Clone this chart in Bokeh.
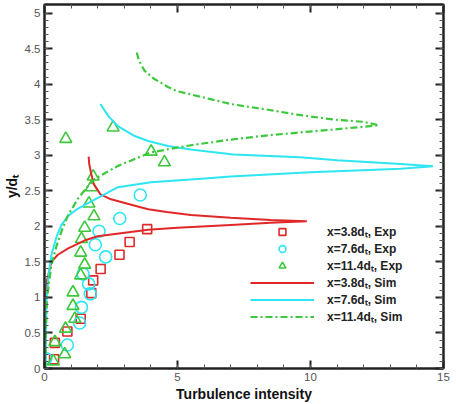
import numpy as np
from bokeh.plotting import figure
from bokeh.models import (Range1d, LinearAxis, FixedTicker, NumeralTickFormatter, Legend,
                          CustomJSTickFormatter)
from bokeh.embed import file_html
from bokeh.resources import INLINE

# ---- data ----
exp38_x = [0.36, 0.39, 0.86, 1.36, 1.76, 1.83, 2.11, 2.82, 3.20, 3.86]
exp38_y = [0.13, 0.36, 0.52, 0.70, 1.06, 1.24, 1.40, 1.60, 1.78, 1.96]

exp76_x = [0.05, 0.86, 1.32, 1.39, 1.72, 1.66, 1.45, 2.30, 1.91, 2.05, 2.83, 3.60]
exp76_y = [0.14, 0.33, 0.64, 0.86, 1.05, 1.19, 1.33, 1.57, 1.74, 1.93, 2.11, 2.44]

exp114_x = [0.33, 0.76, 0.39, 0.79, 1.14, 1.07, 1.07, 1.36, 1.51, 1.36, 1.39, 1.51,
            1.86, 1.67, 1.76, 1.83, 4.01, 4.51, 2.58, 0.80]
exp114_y = [0.10, 0.20, 0.37, 0.56, 0.70, 0.88, 1.07, 1.31, 1.46, 1.63, 1.82, 1.98,
            2.14, 2.32, 2.55, 2.70, 3.05, 2.90, 3.39, 3.23]

sim38_x = [0.02, 0.10, 0.26, 0.50, 0.89, 1.50, 2.00, 2.80, 3.90, 5.00, 7.00, 8.50, 9.86,
           8.50, 7.00, 5.50, 4.60, 3.90, 3.40, 2.50, 2.10, 1.85, 1.75, 1.68, 1.66]
sim38_y = [1.00, 1.25, 1.50, 1.60, 1.69, 1.80, 1.86, 1.90, 1.95, 1.98, 2.02, 2.05, 2.07,
           2.09, 2.12, 2.16, 2.20, 2.24, 2.29, 2.38, 2.45, 2.60, 2.75, 2.88, 2.98]

sim76_x = [0.05, 0.05, 0.08, 0.15, 0.26, 0.45, 0.64, 0.90, 1.26, 1.90, 2.76, 4.00, 5.90,
           7.00, 10.0, 13.4, 14.6, 13.4, 11.0, 9.60, 7.10, 5.50, 4.64, 3.90, 3.39, 2.76,
           2.40, 2.10]
sim76_y = [0.00, 0.50, 1.00, 1.30, 1.60, 1.85, 2.02, 2.15, 2.25, 2.38, 2.55, 2.62, 2.67,
           2.70, 2.76, 2.81, 2.845, 2.875, 2.93, 2.97, 3.01, 3.08, 3.13, 3.20, 3.27, 3.41,
           3.55, 3.72]

sim114_x = [0.03, 0.05, 0.10, 0.26, 0.45, 0.64, 0.89, 1.26, 1.60, 1.90, 2.76, 4.00, 5.50,
            7.00, 8.40, 10.5, 12.0, 12.57, 12.0, 10.9, 9.50, 8.40, 7.00, 5.90, 5.00, 4.64,
            4.10, 3.76, 3.55, 3.45]
sim114_y = [0.00, 0.50, 1.00, 1.46, 1.72, 1.93, 2.16, 2.39, 2.55, 2.67, 2.85, 3.04, 3.14,
            3.22, 3.28, 3.35, 3.40, 3.42, 3.47, 3.50, 3.57, 3.64, 3.72, 3.82, 3.90, 3.96,
            4.08, 4.19, 4.33, 4.47]

x_major = [0, 5, 10, 15]
y_major = [0, 0.5, 1, 1.5, 2, 2.5, 3, 3.5, 4, 4.5, 5]

RED = "#e02828"
CYAN = "#2ee6f2"
GREEN = "#3cc83c"
FONT = "Liberation Sans"

p = figure(width=456, height=404, output_backend="svg", toolbar_location=None,
           x_range=Range1d(0, 15), y_range=Range1d(0, 5.12),
           min_border_left=42, min_border_right=13, min_border_top=4, min_border_bottom=32)
p.background_fill_color = "white"
p.border_fill_color = "white"
p.grid.visible = False
p.outline_line_color = "#222222"
p.outline_line_width = 2

xt = FixedTicker(ticks=x_major, minor_ticks=list(range(0, 16)))
yt = FixedTicker(ticks=y_major, minor_ticks=[round(v * 0.1, 1) for v in range(0, 52)])

def style_axis(ax, show_labels):
    ax.major_tick_in = 8
    ax.major_tick_out = 0
    ax.minor_tick_in = 4
    ax.minor_tick_out = 0
    ax.major_tick_line_color = "#222222"
    ax.major_tick_line_width = 2
    ax.minor_tick_line_color = "#555555"
    ax.axis_line_color = "#222222"
    ax.axis_line_width = 2
    if show_labels:
        ax.formatter = NumeralTickFormatter(format="0.[0]")
        ax.major_label_text_font = FONT
        ax.major_label_text_font_size = "11.5px"
        ax.major_label_text_color = "#555555"
        ax.major_label_standoff = 4
        ax.axis_label_text_font = FONT
        ax.axis_label_text_font_style = "bold"
        ax.axis_label_text_font_size = "14px"
        ax.axis_label_text_color = "#111111"
        ax.axis_label_standoff = 2
    else:
        ax.formatter = CustomJSTickFormatter(code="return ''")
        ax.major_label_standoff = 0

p.xaxis.ticker = xt
p.yaxis.ticker = yt
style_axis(p.xaxis[0], True)
style_axis(p.yaxis[0], True)
p.xaxis.axis_label = "Turbulence intensity"
p.yaxis.axis_label = "y/dₜ"

top_ax = LinearAxis(ticker=xt)
style_axis(top_ax, False)
p.add_layout(top_ax, "above")
right_ax = LinearAxis(ticker=yt)
style_axis(right_ax, False)
p.add_layout(right_ax, "right")

r1 = p.scatter(exp38_x, exp38_y, marker="square", size=9, fill_alpha=0,
               line_color=RED, line_width=1.6)
r2 = p.scatter(exp76_x, exp76_y, marker="circle", size=12, fill_alpha=0,
               line_color=CYAN, line_width=1.6)
r3 = p.scatter(exp114_x, exp114_y, marker="triangle", size=12, fill_alpha=0,
               line_color=GREEN, line_width=1.6)
r4 = p.line(sim38_x, sim38_y, line_color=RED, line_width=2)
r5 = p.line(sim76_x, sim76_y, line_color=CYAN, line_width=2)
r6 = p.line(sim114_x, sim114_y, line_color=GREEN, line_width=2.2, line_dash="7 3 2 3")

legend = Legend(items=[
    ("x=3.8dₜ, Exp", [r1]),
    ("x=7.6dₜ, Exp", [r2]),
    ("x=11.4dₜ, Exp", [r3]),
    ("x=3.8dₜ, Sim", [r4]),
    ("x=7.6dₜ, Sim", [r5]),
    ("x=11.4dₜ, Sim", [r6]),
], location=(206, 43))
legend.padding = 0
legend.margin = 0
legend.spacing = 0
legend.glyph_width = 64
legend.glyph_height = 17
legend.label_height = 17
legend.label_standoff = 13
legend.label_text_font = FONT
legend.label_text_font_style = "bold"
legend.label_text_font_size = "12px"
legend.label_text_color = "#222222"
legend.border_line_alpha = 0
legend.background_fill_alpha = 0
p.add_layout(legend, "center")

open("out.html", "w").write(file_html(p, INLINE))
